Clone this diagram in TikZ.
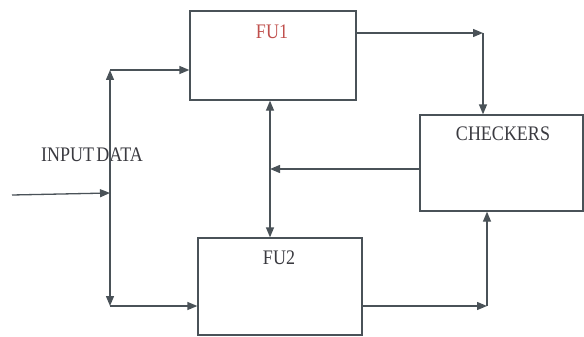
\documentclass[tikz,border=0pt]{standalone}
\usepackage{fontspec}
\setmainfont{Liberation Serif}
\usetikzlibrary{arrows.meta}
\definecolor{ln}{HTML}{4A5258}
\definecolor{fured}{HTML}{C0504D}
\definecolor{txt}{HTML}{3A3A40}
\newcommand{\tallt}[1]{\scalebox{1}[1.15]{#1}}
\begin{document}
\begin{tikzpicture}[x=1pt,y=-1pt,
  box/.style={draw=ln,line width=1.3pt,minimum width=#1,inner sep=0pt},
  lbl/.style={font=\fontsize{18}{18}\selectfont,text=txt,inner sep=0pt},
  tip/.style={Triangle[length=10pt,width=8pt]},
  conn/.style={draw=ln,line width=1.3pt,-{Triangle[length=10pt,width=8pt]}},
  conn2/.style={draw=ln,line width=1.3pt,{Triangle[length=10pt,width=8pt]}-{Triangle[length=10pt,width=8pt]}}]
\useasboundingbox (0,0) rectangle (584,337);
% boxes
\node[box=166pt,minimum height=89pt] (fu1) at (273,55.5) {};
\node[box=164pt,minimum height=97pt] (fu2) at (280,286.5) {};
\node[box=163pt,minimum height=96pt] (ch) at (501.5,163) {};
% labels
\node[lbl,text=fured] (l1) at (272,32) {\tallt{FU1}};
\node[lbl] (l2) at (279,258) {\tallt{FU2}};
\node[lbl] (l3) at (503,134) {\tallt{CHECKERS}};
\node[lbl] (l4) at (92,155) {\tallt{INPUT\hspace{0.12em}DATA}};
% coordinates
\coordinate (inA) at (12,195);
\coordinate (inB) at (110,193);
\coordinate (lt) at (110,70);
\coordinate (lb) at (110,306);
\coordinate (mx) at (270,0);
\coordinate (cy) at (0,169);
\coordinate (r1) at (483,33);
\coordinate (r2) at (487,306);
% connectors
\draw[conn] (inA) -- (inB);
\draw[conn2] (lt) -- (lb);
\draw[conn] (lt) -- (lt -| fu1.west);
\draw[conn] (lb) -- (lb -| fu2.west);
\draw[conn2] (fu1.south -| mx) -- (fu2.north -| mx);
\draw[conn] (ch.west |- cy) -- (mx |- cy);
\draw[conn] (fu1.east |- r1) -- (r1);
\draw[conn] (r1) -- (ch.north -| r1);
\draw[conn] (fu2.east |- r2) -- (r2);
\draw[conn] (r2) -- (ch.south -| r2);
\end{tikzpicture}
\end{document}
